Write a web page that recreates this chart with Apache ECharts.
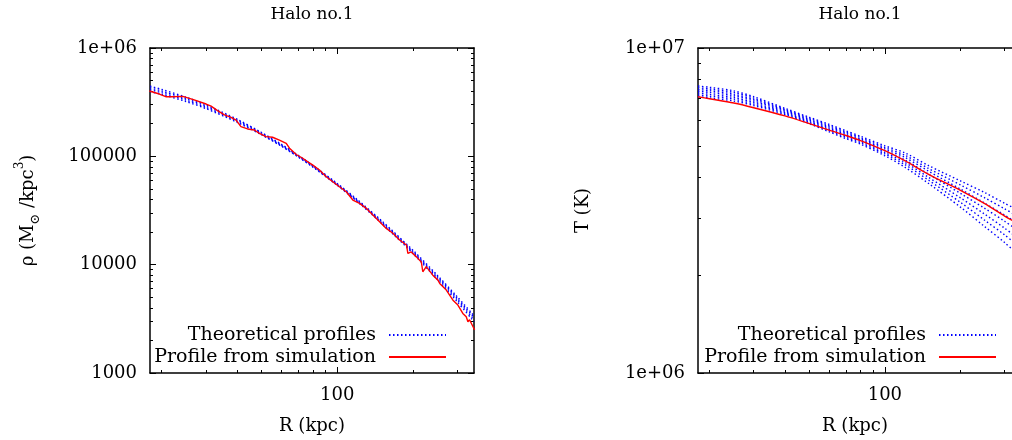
<!DOCTYPE html>
<html>
<head>
<meta charset="utf-8">
<script src="https://cdn.jsdelivr.net/npm/echarts@6/dist/echarts.min.js"></script>
<style>
  html, body { margin: 0; padding: 0; background: #ffffff; }
  #chart { width: 1012px; height: 440px; }
</style>
</head>
<body>
<div id="chart"></div>
<script>
// ---- radial grid shared by the theoretical curves (kpc) ----
const R_GRID = [18, 20, 25, 30, 40, 50, 60, 70, 80, 100, 120, 150, 200, 250, 300, 350];

// ---- density: theoretical profiles (Msun / kpc^3) ----
const rhoTheoA = [4.45e5, 4.15e5, 3.52e5, 2.99e5, 2.20e5, 1.66e5, 1.29e5, 1.02e5, 8.25e4, 5.62e4, 4.00e4, 2.55e4, 1.36e4, 8.0e3, 5.06e3, 3.38e3];
const rhoTheoB = [4.29e5, 4.01e5, 3.41e5, 2.91e5, 2.16e5, 1.64e5, 1.27e5, 1.01e5, 8.15e4, 5.54e4, 3.94e4, 2.51e4, 1.33e4, 7.8e3, 4.90e3, 3.26e3];
const rhoTheoC = [4.12e5, 3.87e5, 3.31e5, 2.83e5, 2.10e5, 1.60e5, 1.25e5, 9.9e4, 8.02e4, 5.46e4, 3.88e4, 2.45e4, 1.30e4, 7.56e3, 4.74e3, 3.12e3];
const rhoTheoD = [3.96e5, 3.73e5, 3.21e5, 2.76e5, 2.06e5, 1.58e5, 1.24e5, 9.85e4, 7.95e4, 5.40e4, 3.83e4, 2.41e4, 1.27e4, 7.3e3, 4.56e3, 2.98e3];

// ---- density: profile from simulation ----
const simRhoR = [17.9, 19.6, 20.8, 22.1, 24.3, 26.6, 30.1, 31.5, 33.4, 35.6, 37.8, 39.6, 41.4, 44.0, 46.8, 49.0,
                 52.1, 55.3, 58.9, 62.7, 64.6, 68.7, 72.9, 76.4, 80.0, 85.0, 90.4, 96.0, 102, 108.6, 115.4, 122.7,
                 130.5, 138.6, 147.4, 156.7, 166.5, 177, 188.5, 191, 197, 206.5, 216, 219, 226, 240, 251.7, 255.7,
                 271.6, 288.6, 302, 316, 326, 331, 336, 347, 352];
const simRho  = [4.01e5, 3.76e5, 3.55e5, 3.55e5, 3.58e5, 3.36e5, 3.04e5, 2.91e5, 2.64e5, 2.41e5, 2.29e5, 2.16e5, 1.88e5, 1.79e5, 1.75e5, 1.63e5,
                 1.52e5, 1.50e5, 1.41e5, 1.32e5, 1.19e5, 1.04e5, 9.6e4, 8.9e4, 8.3e4, 7.48e4, 6.48e4, 5.83e4, 5.24e4, 4.71e4, 3.95e4, 3.68e4,
                 3.31e4, 2.87e4, 2.49e4, 2.16e4, 1.95e4, 1.69e4, 1.52e4, 1.27e4, 1.31e4, 1.18e4, 1.06e4, 8.6e3, 9.6e3, 8.0e3, 7.2e3, 6.7e3,
                 5.83e3, 4.7e3, 4.24e3, 3.55e3, 3.3e3, 2.97e3, 3.1e3, 2.67e3, 2.5e3];

// ---- temperature: theoretical profiles (K) ----
const tempTheo1 = [7.08e6, 7.02e6, 6.87e6, 6.65e6, 6.24e6, 5.85e6, 5.52e6, 5.26e6, 5.06e6, 4.66e6, 4.30e6, 3.82e6, 3.24e6, 2.82e6, 2.52e6, 2.26e6];
const tempTheo2 = [7.17e6, 7.11e6, 6.96e6, 6.72e6, 6.29e6, 5.90e6, 5.57e6, 5.31e6, 5.11e6, 4.72e6, 4.38e6, 3.91e6, 3.35e6, 2.95e6, 2.66e6, 2.41e6];
const tempTheo3 = [7.27e6, 7.20e6, 7.04e6, 6.79e6, 6.33e6, 5.94e6, 5.62e6, 5.36e6, 5.16e6, 4.77e6, 4.45e6, 3.99e6, 3.46e6, 3.08e6, 2.79e6, 2.55e6];
const tempTheo4 = [7.36e6, 7.30e6, 7.13e6, 6.87e6, 6.38e6, 5.99e6, 5.67e6, 5.41e6, 5.21e6, 4.83e6, 4.53e6, 4.08e6, 3.57e6, 3.21e6, 2.93e6, 2.70e6];
const tempTheo5 = [7.45e6, 7.39e6, 7.21e6, 6.94e6, 6.43e6, 6.03e6, 5.72e6, 5.46e6, 5.25e6, 4.89e6, 4.61e6, 4.17e6, 3.68e6, 3.33e6, 3.06e6, 2.84e6];
const tempTheo6 = [7.55e6, 7.48e6, 7.30e6, 7.01e6, 6.47e6, 6.08e6, 5.77e6, 5.51e6, 5.30e6, 4.94e6, 4.68e6, 4.25e6, 3.79e6, 3.46e6, 3.20e6, 2.99e6];
const tempTheo7 = [7.64e6, 7.57e6, 7.38e6, 7.08e6, 6.52e6, 6.12e6, 5.82e6, 5.56e6, 5.35e6, 5.00e6, 4.76e6, 4.34e6, 3.90e6, 3.59e6, 3.33e6, 3.13e6];

// ---- temperature: profile from simulation ----
const simTemp = [7.08e6, 6.98e6, 6.77e6, 6.55e6, 6.18e6, 5.85e6, 5.59e6, 5.38e6, 5.19e6, 4.83e6, 4.50e6, 4.08e6, 3.65e6, 3.32e6, 3.04e6, 2.85e6];

// ---- axes: ranges, tick positions and tick labels ----
const R_RANGE_RHO = [18, 350];
const R_RANGE_T = [18, 321];   // this panel runs off the right edge of the page
const R_MAJOR = [100];
const R_MAJOR_LABELS = ['100'];
const R_MINOR = [20, 30, 40, 50, 60, 70, 80, 90, 200, 300];

const RHO_RANGE = [1000, 1e6];
const RHO_MAJOR = [1000, 10000, 100000, 1000000];
const RHO_MAJOR_LABELS = ['1000', '10000', '100000', '1e+06'];
const RHO_MINOR = [2000, 3000, 4000, 5000, 6000, 7000, 8000, 9000,
                   20000, 30000, 40000, 50000, 60000, 70000, 80000, 90000,
                   200000, 300000, 400000, 500000, 600000, 700000, 800000, 900000];

const T_RANGE = [1e6, 1e7];
const T_MAJOR = [1e6, 1e7];
const T_MAJOR_LABELS = ['1e+06', '1e+07'];
const T_MINOR = [2e6, 3e6, 4e6, 5e6, 6e6, 7e6, 8e6, 9e6];

const TITLES = ['Halo no.1', 'Halo no.1'];
const X_NAME = 'R (kpc)';
const THEO_NAME = 'Theoretical profiles';
const SIM_NAME = 'Profile from simulation';

// ---- styling ----
const FONT = 'DejaVu Serif';
const FS = 18;
const INK = '#000000';
const BLUE = '#0000ff';
const RED = '#ff0000';
const GRIDS = [
  { left: 150, top: 48, width: 324, height: 325 },
  { left: 698, top: 48, width: 314, height: 325 }
];

function labelFrom(values, labels) {
  return function (v) {
    for (let i = 0; i < values.length; i++) {
      if (Math.abs(v - values[i]) <= values[i] * 1e-6) return labels[i];
    }
    return '';
  };
}

// Four axes per dimension: labelled main side, its minor ticks, and the mirrored frame side.
function axisSet(dim, gridIndex, range, major, majorLabels, minor, name, nameCfg, showFarSide) {
  const low = dim === 'x' ? 'bottom' : 'left';
  const high = dim === 'x' ? 'top' : 'right';
  const base = {
    type: 'log', logBase: 10, gridIndex: gridIndex, min: range[0], max: range[1],
    splitLine: { show: false }, silent: true
  };
  const main = Object.assign({}, base, {
    position: low,
    axisLine: { show: true, lineStyle: { color: INK, width: 1.5 } },
    axisTick: { show: true, inside: true, length: 6, customValues: major, lineStyle: { color: INK, width: 1 } },
    axisLabel: {
      show: true, customValues: major, formatter: labelFrom(major, majorLabels),
      margin: 13, fontFamily: FONT, fontSize: FS, color: INK
    }
  });
  if (name) Object.assign(main, { name: name }, nameCfg);
  const minorLow = Object.assign({}, base, {
    position: low,
    axisLine: { show: false },
    axisTick: { show: true, inside: true, length: 3, customValues: minor, lineStyle: { color: INK, width: 1 } },
    axisLabel: { show: false }
  });
  const mirror = Object.assign({}, base, {
    position: high,
    axisLine: { show: showFarSide, lineStyle: { color: INK, width: 1.5 } },
    axisTick: { show: showFarSide, inside: true, length: 6, customValues: major, lineStyle: { color: INK, width: 1 } },
    axisLabel: { show: false }
  });
  const minorHigh = Object.assign({}, base, {
    position: high,
    axisLine: { show: false },
    axisTick: { show: showFarSide, inside: true, length: 3, customValues: minor, lineStyle: { color: INK, width: 1 } },
    axisLabel: { show: false }
  });
  return [main, minorLow, mirror, minorHigh];
}

const xNameCfg = {
  nameLocation: 'middle', nameGap: 44,
  nameTextStyle: { fontFamily: FONT, fontSize: FS, color: INK }
};

const rhoNameCfg = {
  nameLocation: 'middle', nameRotate: 90, nameGap: 108,
  nameTextStyle: {
    fontFamily: FONT, fontSize: FS, color: INK,
    rich: {
      n: { fontFamily: FONT, fontSize: FS, color: INK, lineHeight: 28, verticalAlign: 'middle' },
      s: { fontFamily: FONT, fontSize: 13, color: INK, lineHeight: 28, verticalAlign: 'bottom' },
      p: { fontFamily: FONT, fontSize: 12, color: INK, lineHeight: 28, verticalAlign: 'top' }
    }
  }
};

const tNameCfg = {
  nameLocation: 'middle', nameRotate: 90, nameGap: 106,
  nameTextStyle: { fontFamily: FONT, fontSize: FS, color: INK }
};

const xAxes = []
  .concat(axisSet('x', 0, R_RANGE_RHO, R_MAJOR, R_MAJOR_LABELS, R_MINOR, X_NAME, xNameCfg, true))
  .concat(axisSet('x', 1, R_RANGE_T, R_MAJOR, R_MAJOR_LABELS, R_MINOR, X_NAME, xNameCfg, true));
const yAxes = []
  .concat(axisSet('y', 0, RHO_RANGE, RHO_MAJOR, RHO_MAJOR_LABELS, RHO_MINOR,
                  '{n|ρ (M}{s|⊙}{n| /kpc}{p|3}{n|)}', rhoNameCfg, true))
  .concat(axisSet('y', 1, T_RANGE, T_MAJOR, T_MAJOR_LABELS, T_MINOR, 'T (K)', tNameCfg, false));

function pairs(xs, ys) {
  return xs.map(function (x, i) { return [x, ys[i]]; });
}

function theoSeries(axisIndex, values) {
  return {
    type: 'line', name: THEO_NAME, xAxisIndex: axisIndex, yAxisIndex: axisIndex,
    data: pairs(R_GRID, values), symbol: 'none', smooth: 0.3, silent: true,
    lineStyle: { color: BLUE, width: 1.4, type: [1.5, 2.5] },
    itemStyle: { color: BLUE }, z: 2
  };
}

function simSeries(axisIndex, xs, ys, smooth) {
  return {
    type: 'line', name: SIM_NAME, xAxisIndex: axisIndex, yAxisIndex: axisIndex,
    data: pairs(xs, ys), symbol: 'none', smooth: smooth, silent: true,
    lineStyle: { color: RED, width: 1.4, type: 'solid' },
    itemStyle: { color: RED }, z: 3
  };
}

const series = []
  .concat([rhoTheoA, rhoTheoB, rhoTheoC, rhoTheoD].map(function (v) { return theoSeries(0, v); }))
  .concat([simSeries(0, simRhoR, simRho, false)])
  .concat([tempTheo1, tempTheo2, tempTheo3, tempTheo4, tempTheo5, tempTheo6, tempTheo7].map(function (v) { return theoSeries(4, v); }))
  .concat([simSeries(4, R_GRID, simTemp, 0.3)]);

function legendAt(right) {
  return {
    right: right, top: 324, orient: 'vertical', align: 'right', padding: 0,
    itemWidth: 57, itemHeight: 14, itemGap: 0, selectedMode: false,
    data: [THEO_NAME, SIM_NAME],
    itemStyle: { opacity: 0 },
    textStyle: { fontFamily: FONT, fontSize: 19, lineHeight: 22, color: INK, padding: [0, 8, 0, 0] }
  };
}

function titleAt(center, text) {
  return {
    text: text, left: center, top: 6, textAlign: 'center', padding: 0,
    textStyle: { fontFamily: FONT, fontSize: 17, fontWeight: 'normal', color: INK }
  };
}

const chart = echarts.init(document.getElementById('chart'), null, { renderer: 'canvas' });
chart.setOption({
  backgroundColor: '#ffffff',
  animation: false,
  title: [titleAt(312, TITLES[0]), titleAt(860, TITLES[1])],
  legend: [legendAt(565), legendAt(15)],
  grid: GRIDS,
  xAxis: xAxes,
  yAxis: yAxes,
  series: series
});
</script>
</body>
</html>
